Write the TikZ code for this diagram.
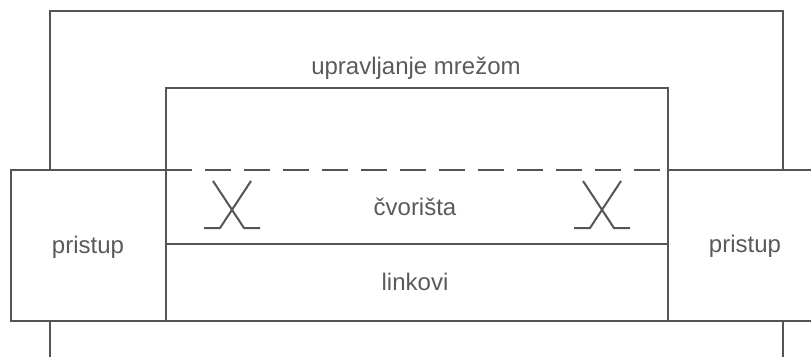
\documentclass[tikz,border=0pt]{standalone}
\usepackage{fontspec}
\setmainfont{Liberation Sans}
\usepackage{xcolor}
\usepackage{tikz}

\definecolor{linegray}{RGB}{85,85,85}
\definecolor{textgray}{RGB}{90,90,90}

\begin{document}
\begin{tikzpicture}[x=1pt,y=-1pt,line width=2.6pt,draw=linegray,
  label/.style={text=textgray,font=\fontsize{24}{28}\selectfont}]
\useasboundingbox (0,0) rectangle (811,356);
\clip (0,0) rectangle (811,356);
% outer frame
\draw (50,170) -- (50,11) -- (783,11) -- (783,170);
\draw (50,321) -- (50,370);
\draw (783,321) -- (783,370);
% pristup boxes
\draw (166,170) -- (11,170) -- (11,321) -- (820,321);
\draw (668,170) -- (820,170);
% inner box
\draw (166,321) -- (166,88) -- (668,88) -- (668,321);
\draw[dash pattern=on 26pt off 13pt] (166,170) -- (668,170);
\draw (166,244) -- (668,244);
% crosspoints
\foreach \cx in {232,602} {
  \draw[line width=2pt] (\cx-19,181) -- (\cx+12,228) -- (\cx+28,228);
  \draw[line width=2pt] (\cx+19,181) -- (\cx-12,228) -- (\cx-28,228);
}
\node[label] (upr) at (416,68) {upravljanje mrežom};
\node[label] (cvor) at (415,207) {čvorišta};
\node[label] (link) at (415,282) {linkovi};
\node[label] (pristupL) at (88,247) {pristup};
\node[label] (pristupR) at (745,246) {pristup};
\end{tikzpicture}
\end{document}
